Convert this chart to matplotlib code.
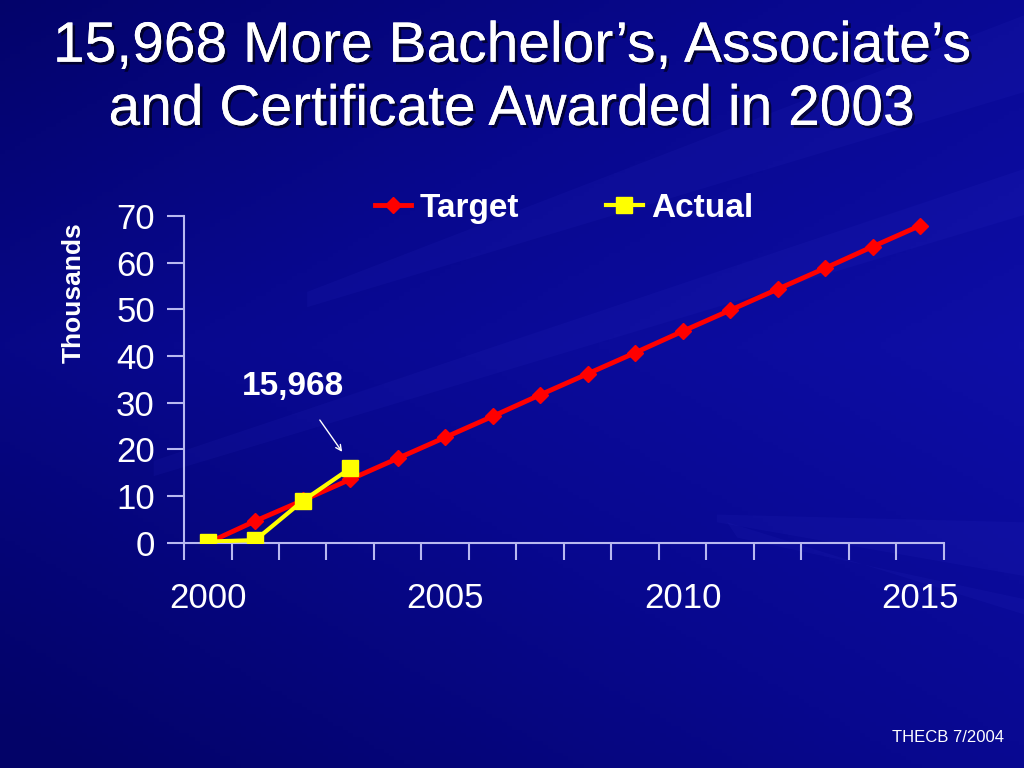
import numpy as np
import matplotlib
matplotlib.use("Agg")
import matplotlib.pyplot as plt
from matplotlib import patheffects
from matplotlib.patches import Polygon

# --- DATA ---
years = list(range(2000, 2016))
target = [0.0, 4.7, 9.1, 13.6, 18.1, 22.6, 27.1, 31.7, 36.2, 40.7,
          45.3, 49.8, 54.3, 58.8, 63.4, 67.9]
actual_years = [2000, 2001, 2002, 2003]
actual = [0.3, 0.6, 9.0, 15.968]
year_labels = [2000, 2005, 2010, 2015]

plt.rcParams['font.family'] = ['Liberation Sans', 'DejaVu Sans']

fig = plt.figure(figsize=(10.24, 7.68), dpi=100)

# --- fond bleu dégradé ---
bg = fig.add_axes([0, 0, 1, 1], zorder=-10)
bg.set_xlim(0, 1)
bg.set_ylim(0, 1)
bg.axis('off')
gy, gx = np.mgrid[0:1:200j, 0:1:200j]
grad = 0.6 * gx + 0.4 * (1 - np.abs(gy - 0.45) * 2)
cmap = matplotlib.colors.LinearSegmentedColormap.from_list(
    'bleu', ['#030368', '#08088e', '#0e0ea6'])
bg.imshow(grad, extent=[0, 1, 0, 1], origin='upper', cmap=cmap,
          aspect='auto', vmin=0, vmax=1)
# rayons clairs partant de la droite
rays = [
    [(1.0, 0.88), (1.0, 0.98), (0.30, 0.62), (0.30, 0.60)],
    [(1.0, 0.72), (1.0, 0.78), (0.15, 0.40), (0.15, 0.38)],
    [(1.0, 0.25), (1.0, 0.32), (0.70, 0.33), (0.70, 0.32)],
    [(1.0, 0.20), (1.0, 0.22), (0.72, 0.30), (0.71, 0.32)],
]
for r in rays:
    bg.add_patch(Polygon(r, closed=True, facecolor='#4040e0', alpha=0.08,
                         edgecolor='none'))

# --- titre ---
shadow = [patheffects.withSimplePatchShadow(offset=(2, -2), shadow_rgbFace='black', alpha=0.6),
          patheffects.Normal()]
fig.text(0.5, 0.898, "15,968 More Bachelor’s, Associate’s\nand Certificate Awarded in 2003",
         ha='center', va='center', color='white', fontsize=41, linespacing=1.22,
         path_effects=shadow)

# --- graphique ---
ax = fig.add_axes([0.1797, 0.293, 0.742, 0.426])
ax.set_facecolor('none')
ax.plot(years, target, color='#ff0000', lw=3.5, marker='D', ms=8,
        label='Target', zorder=3)
ax.plot(actual_years, actual, color='#ffff00', lw=3, marker='s', ms=11,
        label='Actual', zorder=4)

ax.set_xlim(1999.5, 2015.5)
ax.set_ylim(0, 70)
ax.set_yticks(range(0, 71, 10))
ax.set_xticks(np.arange(1999.5, 2016, 1))
ax.set_xticklabels([])
ax.set_xticks(year_labels, minor=True)
ax.set_xticklabels([str(y) for y in year_labels], minor=True)

spine_col = '#b8b8f0'
for s in ['top', 'right']:
    ax.spines[s].set_visible(False)
for s in ['left', 'bottom']:
    ax.spines[s].set_color(spine_col)
    ax.spines[s].set_linewidth(1.5)
ax.tick_params(axis='both', which='major', direction='out', length=12,
               width=1.5, color=spine_col, labelcolor='white', labelsize=25)
ax.tick_params(axis='y', pad=9)
ax.tick_params(axis='x', which='minor', length=0, labelcolor='white',
               labelsize=25, pad=28)

ax.set_ylabel("Thousands", color='white', fontsize=19, fontweight='bold')
ax.yaxis.set_label_coords(-0.129, 0.765)

ax.text(2001.79, 33.5, "15,968", color='white', fontsize=24,
        fontweight='bold', ha='center', va='center')
ax.annotate("", xy=(2002.83, 19.5), xytext=(2002.36, 26.3),
            arrowprops=dict(arrowstyle='->', color='white', lw=1,
                            shrinkA=0, shrinkB=0))

leg = fig.legend(loc='center left', bbox_to_anchor=(0.366, 0.729), ncol=2,
                 frameon=False, fontsize=24, columnspacing=2.6,
                 handlelength=1.1, handletextpad=0.25, borderpad=0,
                 borderaxespad=0)
for t in leg.get_texts():
    t.set_color('white')
    t.set_fontweight('bold')

fig.text(0.98, 0.04, "THECB 7/2004", color='white', fontsize=12,
         ha='right', va='center')

fig.savefig("out.png", dpi=100)
